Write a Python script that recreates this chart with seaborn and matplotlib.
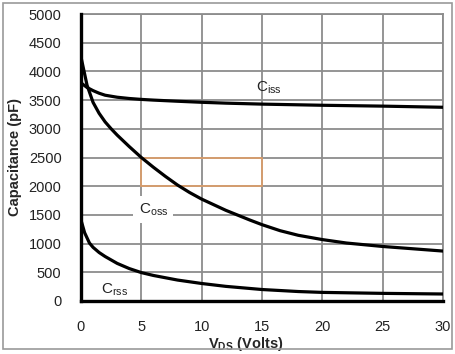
import matplotlib
matplotlib.use("Agg")
import matplotlib.pyplot as plt
import seaborn as sns
import pandas as pd
from matplotlib.patches import Rectangle

vds_ciss = [0, 0.5, 1, 1.5, 2, 3, 4, 5, 6, 8, 10, 12, 15, 20, 25, 30]
ciss = [3800, 3720, 3665, 3620, 3585, 3550, 3528, 3512, 3500, 3480, 3462, 3447,
        3430, 3410, 3395, 3375]

vds_coss = [0, 0.5, 1, 1.5, 2, 2.5, 3, 4, 5, 6, 7, 8, 9, 10, 12, 14, 15, 16.5, 18,
            20, 22, 25, 30]
coss = [4250, 3760, 3460, 3270, 3120, 3000, 2890, 2690, 2500, 2330, 2170, 2020, 1890,
        1775, 1580, 1410, 1330, 1225, 1145, 1070, 1010, 950, 870]

vds_crss = [0, 0.3, 0.7, 1, 1.5, 2, 3, 4, 5, 6, 8, 10, 12, 15, 18, 20, 25, 30]
crss = [1410, 1190, 1010, 935, 845, 775, 655, 565, 495, 445, 365, 305, 255, 200,
        165, 150, 133, 122]

x_ticks = [0, 5, 10, 15, 20, 25, 30]
y_ticks = [0, 500, 1000, 1500, 2000, 2500, 3000, 3500, 4000, 4500, 5000]

df = pd.DataFrame({"VDS": vds_ciss + vds_coss + vds_crss,
                   "C": ciss + coss + crss,
                   "series": ["Ciss"] * len(vds_ciss) + ["Coss"] * len(vds_coss)
                   + ["Crss"] * len(vds_crss)})

sns.set_style("white")
plt.rcParams["font.family"] = ["Liberation Sans", "DejaVu Sans"]
plt.rcParams["mathtext.fontset"] = "custom"
plt.rcParams["mathtext.rm"] = "Liberation Sans"
plt.rcParams["mathtext.it"] = "Liberation Sans"
plt.rcParams["mathtext.bf"] = "Liberation Sans:bold"

fig = plt.figure(figsize=(4.56, 3.54), dpi=100)
ax = fig.add_axes([81 / 456, 1 - 301 / 354, (443 - 81) / 456, (301 - 14) / 354])

sns.lineplot(data=df, x="VDS", y="C", units="series", estimator=None,
             color="black", lw=2.3, ax=ax, zorder=5, solid_joinstyle="round",
             solid_capstyle="round")

ax.set_xlim(0, 30)
ax.set_ylim(0, 5000)
ax.set_xticks(x_ticks)
ax.set_yticks(y_ticks)
ax.set_xticklabels([str(t) for t in x_ticks], fontsize=10.5, color="#222222")
ax.set_yticklabels([str(t) for t in y_ticks], fontsize=10.5, color="#222222")
ax.tick_params(axis="x", length=0, pad=14)
ax.tick_params(axis="y", length=0, pad=14)

ax.grid(True, color="#8c8c8c", lw=1.3)
ax.set_axisbelow(True)
for s in ["top", "right"]:
    ax.spines[s].set_color("#8c8c8c")
    ax.spines[s].set_linewidth(1.3)
for s in ["left", "bottom"]:
    ax.spines[s].set_color("black")
    ax.spines[s].set_linewidth(2.4)
    ax.spines[s].set_zorder(6)

ax.set_xlabel(r"V$_{\mathbf{DS}}$ (Volts)", fontsize=10.5, fontweight="bold")
ax.xaxis.set_label_coords((246 - 81) / (443 - 81), -(344 - 301) / (301 - 14))
ax.set_ylabel("Capacitance (pF)", fontsize=10.5, fontweight="bold")
ax.yaxis.set_label_coords(-(81 - 15) / (443 - 81), 0.5)
ax.xaxis.label.set_va("center")
ax.yaxis.label.set_va("center")

ax.add_patch(Rectangle((5, 2000), 10, 500, fill=False, edgecolor="#eba062",
                       lw=1.3, alpha=0.8, zorder=4))

ax.text(15.6, 3720, r"C$_{\rm iss}$", fontsize=11, ha="center", va="center",
        color="#222222", zorder=6)
ax.text(6.0, 1590, r"C$_{\rm oss}$", fontsize=11, ha="center", va="center",
        color="#222222", zorder=4,
        bbox=dict(boxstyle="square,pad=0.35", fc="white", ec="none"))
ax.text(2.8, 200, r"C$_{\rm rss}$", fontsize=11, ha="center", va="center",
        color="#222222", zorder=6)

fig.patches.append(Rectangle((3 / 456, 5 / 354), 449 / 456, 346 / 354,
                             transform=fig.transFigure, fill=False,
                             edgecolor="#9a9a9a", lw=1.2))

fig.savefig("out.png", dpi=100)
